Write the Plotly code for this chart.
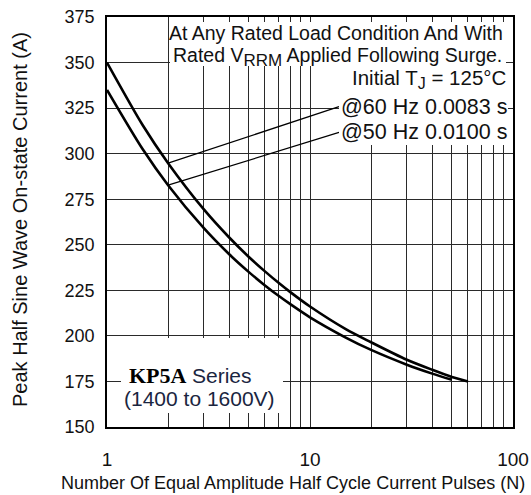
import plotly.graph_objects as go

# ---- data ----
n_60hz = [1, 1.5, 2, 3, 4, 5, 6, 7, 8, 10, 15, 20, 30, 40, 50, 60]
i_60hz = [350, 315.6, 294.8, 269.4, 254.0, 243.3, 235.4, 229.1, 224.0, 216.1,
          203.7, 196.5, 186.9, 181.4, 177.5, 175.0]

n_50hz = [1, 1.5, 2, 3, 4, 5, 6, 7, 8, 10, 15, 20, 30, 40, 50]
i_50hz = [335, 302.4, 282.7, 259.1, 244.8, 235.0, 227.7, 222.0, 217.4, 210.2,
          199.1, 192.3, 184.2, 179.3, 175.9]

leader60_n = [2, 13.9]
leader60_i = [294.8, 325.8]
leader50_n = [2, 13.9]
leader50_i = [282.7, 311.7]

x_tickvals = [1, 2, 3, 4, 5, 6, 7, 8, 9, 10, 20, 30, 40, 50, 60, 70, 80, 90, 100]
x_ticktext = ["1", "", "", "", "", "", "", "", "", "10", "", "", "", "", "", "", "", "", "100"]
y_tickvals = [150, 175, 200, 225, 250, 275, 300, 325, 350, 375]

W, H = 531, 495
L, R, T, B = 107, 513, 17, 427


def px(x):
    return (x - L) / (R - L)


def py(y):
    return (B - y) / (B - T)


fig = go.Figure()
curve_style = dict(color="black", width=2.6, shape="spline", smoothing=0.8)
fig.add_trace(go.Scatter(x=n_60hz, y=i_60hz, mode="lines", line=curve_style,
                         hoverinfo="skip", showlegend=False))
fig.add_trace(go.Scatter(x=n_50hz, y=i_50hz, mode="lines", line=curve_style,
                         hoverinfo="skip", showlegend=False))
fig.add_trace(go.Scatter(x=leader60_n, y=leader60_i, mode="lines",
                         line=dict(color="black", width=1.2), showlegend=False,
                         hoverinfo="skip"))
fig.add_trace(go.Scatter(x=leader50_n, y=leader50_i, mode="lines",
                         line=dict(color="black", width=1.2), showlegend=False,
                         hoverinfo="skip"))

# white boxes behind texts (they do not touch the curves or the frame)
boxes = [(170, 22, 506, 66), (339, 66, 508, 145), (121, 338, 283, 413)]
for (x0, y0, x1, y1) in boxes:
    fig.add_shape(type="rect", xref="paper", yref="paper",
                  x0=px(x0), x1=px(x1), y0=py(y1), y1=py(y0),
                  fillcolor="white", line=dict(width=0), layer="above")

font = "Liberation Sans, Arial, sans-serif"
tcol = "#111111"


def ann(text, x, y, xanchor="right", size=20, family=font, color=tcol):
    fig.add_annotation(text=text, xref="paper", yref="paper", x=px(x), y=py(y),
                       xanchor=xanchor, yanchor="middle", showarrow=False,
                       font=dict(family=family, size=size, color=color))


ann("At Any Rated Load Condition And With", 505, 33, size=19.5)
ann('Rated V<sub><span style="font-size:17px">RRM</span></sub> Applied Following Surge.',
    504, 57, size=19.5)
ann('Initial T<sub><span style="font-size:16px">J</span></sub> = 125°C', 508, 79, size=20.5)
ann("@60 Hz 0.0083 s", 509, 107, size=21.5)
ann("@50 Hz 0.0100 s", 509, 132, size=21.5)
ann("<b>KP5A</b>", 127, 375, xanchor="left", size=22,
    family="Liberation Serif, Times New Roman, serif", color="black")
ann("Series", 190, 375, xanchor="left", size=21, color="#1a2540")
ann("(1400 to 1600V)", 122, 398, xanchor="left", size=21, color="#1a2540")

# axis titles as annotations
ann("Number Of Equal Amplitude Half Cycle Current Pulses (N)", 293, 483,
    xanchor="center", size=18)
fig.add_annotation(text="Peak Half Sine Wave On-state Current (A)", xref="paper",
                   yref="paper", x=px(20), y=py(220), xanchor="center",
                   yanchor="middle", textangle=-90, showarrow=False,
                   font=dict(family=font, size=20, color=tcol))

grid_col = "#2a2a2a"
fig.update_xaxes(type="log", range=[0, 2], tickvals=x_tickvals, ticktext=x_ticktext,
                 showgrid=True, gridcolor=grid_col, gridwidth=1.4,
                 showline=True, linecolor="black", linewidth=1.6, mirror=True,
                 ticks="", ticklabelstandoff=14, automargin=False,
                 tickfont=dict(family=font, size=19, color=tcol), zeroline=False)
fig.update_yaxes(range=[150, 375], tickvals=y_tickvals,
                 showgrid=True, gridcolor=grid_col, gridwidth=1.4,
                 showline=True, linecolor="black", linewidth=1.6, mirror=True,
                 ticks="", ticklabelstandoff=7, automargin=False,
                 tickfont=dict(family=font, size=18, color=tcol), zeroline=False)

fig.update_layout(width=W, height=H,
                  margin=dict(l=L, r=W - R, t=T, b=H - B),
                  paper_bgcolor="white", plot_bgcolor="white", showlegend=False,
                  hovermode=False)

fig.write_html("out.html",
               config={"displayModeBar": False},
               post_script="document.body.style.margin='0px';"
                           "document.body.style.overflow='hidden';")
